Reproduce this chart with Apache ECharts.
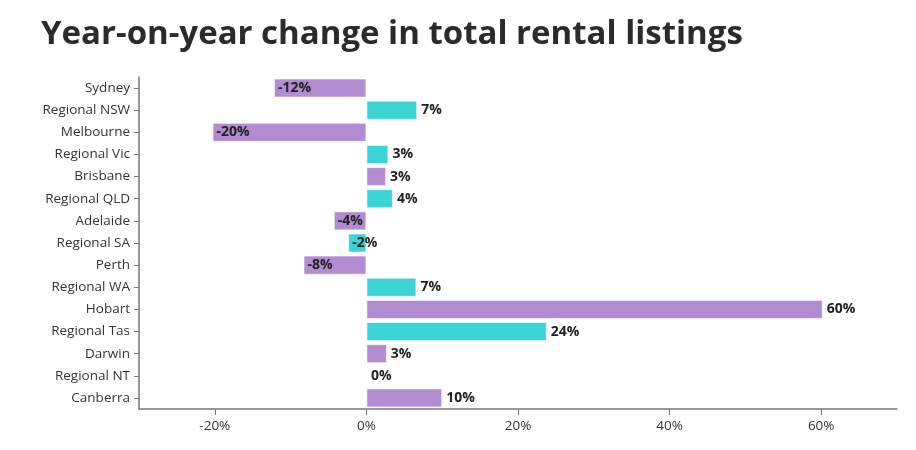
<!DOCTYPE html>
<html>
<head>
<meta charset="utf-8">
<script src="https://cdn.jsdelivr.net/npm/echarts@6/dist/echarts.min.js"></script>
<style>
  html, body { margin: 0; padding: 0; background: #fff; }
  #chart { width: 916px; height: 450px; }
</style>
</head>
<body>
<div id="chart"></div>
<script>
var categories = ["Sydney", "Regional NSW", "Melbourne", "Regional Vic", "Brisbane", "Regional QLD",
  "Adelaide", "Regional SA", "Perth", "Regional WA", "Hobart", "Regional Tas", "Darwin",
  "Regional NT", "Canberra"];
var changes = [-12.2, 6.7, -20.3, 2.9, 2.6, 3.5, -4.3, -2.4, -8.3, 6.6, 60.2, 23.8, 2.7, 0, 10];
var tickValues = [-20, 0, 20, 40, 60];

var cityColor = "#b28bd0";
var regionColor = "#3ad3d6";
var font = "'Open Sans', sans-serif";

var chart = echarts.init(document.getElementById("chart"));

var barData = changes.map(function (v, i) {
  var regional = categories[i].indexOf("Regional") === 0;
  return {
    value: v,
    itemStyle: { color: regional ? regionColor : cityColor },
    label: { position: v < 0 ? "insideLeft" : "right" }
  };
});

chart.setOption({
  animation: false,
  title: {
    text: "Year-on-year change in total rental listings",
    left: 36,
    top: 13,
    textStyle: { fontFamily: font, fontSize: 33, fontWeight: "bold", color: "#2b2b2b" }
  },
  grid: { left: 139, right: 19, top: 77, bottom: 41, containLabel: false },
  xAxis: {
    type: "value",
    min: -30,
    max: 70,
    splitLine: { show: false },
    axisLine: { show: true, lineStyle: { color: "#777", width: 1.5 } },
    axisTick: { show: true, customValues: tickValues, length: 6, lineStyle: { color: "#777" } },
    axisLabel: {
      customValues: tickValues,
      formatter: "{value}%",
      fontFamily: font, fontSize: 13.5, color: "#333", margin: 10
    }
  },
  yAxis: {
    type: "category",
    data: categories,
    inverse: true,
    axisLine: { show: true, onZero: false, lineStyle: { color: "#777", width: 1.5 } },
    axisTick: { show: true, length: 5, alignWithLabel: true, lineStyle: { color: "#777" } },
    axisLabel: { fontFamily: font, fontSize: 13.5, color: "#333", margin: 9 }
  },
  series: [{
    type: "bar",
    data: barData,
    barCategoryGap: "14%",
    itemStyle: { borderColor: "rgba(255,255,255,0.6)", borderWidth: 1 },
    label: {
      show: true,
      distance: 4,
      fontFamily: font,
      fontSize: 14,
      fontWeight: "bold",
      color: "#222",
      formatter: function (p) { return Math.round(p.value) + "%"; }
    }
  }]
});
</script>
</body>
</html>
